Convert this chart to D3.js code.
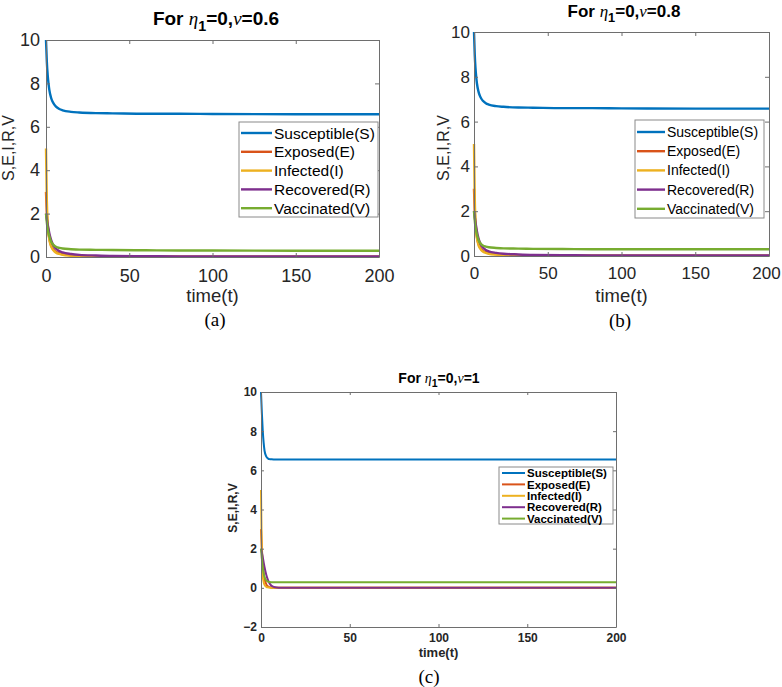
<!DOCTYPE html>
<html><head><meta charset="utf-8">
<script src="https://cdn.jsdelivr.net/npm/d3@7"></script>
<style>body{margin:0;background:#fff}svg{display:block}</style>
</head><body>
<svg id="c" width="782" height="687"></svg>
<script>
// ---- data ----
const seriesNames = ["Susceptible(S)","Exposed(E)","Infected(I)","Recovered(R)","Vaccinated(V)"];
const seriesColors = ["#0072BD","#D95319","#EDB120","#7E2F8E","#77AC30"];
const timeTicks = [0,50,100,150,200];

const timeAB = [0,0.5,1,1.5,2,3,4,5,6,8,10,15,20,30,40,60,80,100,150,200];
const S_a = [10,9.0,8.4,8.0,7.7,7.35,7.15,7.02,6.93,6.82,6.76,6.69,6.66,6.63,6.62,6.6,6.6,6.59,6.58,6.58];
const E_a = [3,2.0,1.45,1.1,0.85,0.55,0.4,0.3,0.24,0.17,0.13,0.08,0.06,0.04,0.03,0.02,0.015,0.01,0.01,0.01];
const I_a = [5,2.6,1.6,1.1,0.8,0.5,0.35,0.26,0.2,0.14,0.1,0.06,0.04,0.03,0.02,0.015,0.01,0.01,0.01,0.01];
const R_a = [2,1.75,1.5,1.3,1.1,0.8,0.6,0.47,0.38,0.27,0.21,0.14,0.1,0.07,0.05,0.04,0.03,0.03,0.02,0.02];
const V_a = [2,1.6,1.3,1.1,0.95,0.72,0.6,0.52,0.47,0.42,0.39,0.36,0.34,0.33,0.32,0.31,0.3,0.3,0.29,0.29];

const S_b = [10,9.0,8.4,8.0,7.7,7.35,7.15,7.02,6.93,6.82,6.76,6.69,6.66,6.63,6.62,6.6,6.6,6.59,6.58,6.58];
const E_b = [3,2.0,1.45,1.1,0.85,0.55,0.4,0.3,0.24,0.17,0.13,0.08,0.06,0.04,0.03,0.02,0.015,0.01,0.01,0.01];
const I_b = [5,2.6,1.6,1.1,0.8,0.5,0.35,0.26,0.2,0.14,0.1,0.06,0.04,0.03,0.02,0.015,0.01,0.01,0.01,0.01];
const R_b = [2,1.75,1.5,1.3,1.1,0.8,0.6,0.47,0.38,0.27,0.21,0.14,0.1,0.07,0.05,0.04,0.03,0.03,0.02,0.02];
const V_b = [2,1.6,1.3,1.1,0.95,0.72,0.6,0.52,0.47,0.42,0.39,0.36,0.34,0.33,0.32,0.31,0.3,0.3,0.3,0.3];

const timeC = [0,0.5,1,1.5,2,3,4,5,6,8,10,15,20,50,100,150,200];
const S_c = [10,8.9,8.0,7.4,7.0,6.7,6.6,6.57,6.56,6.55,6.55,6.55,6.55,6.55,6.55,6.55,6.55];
const E_c = [3,2.0,1.2,0.75,0.45,0.18,0.07,0.03,0.01,0,0,0,0,0,0,0,0];
const I_c = [5,1.5,0.6,0.3,0.15,0.05,0.02,0.01,0,0,0,0,0,0,0,0,0];
const R_c = [2,1.8,1.55,1.3,1.05,0.65,0.38,0.2,0.1,0.03,0.01,0,0,0,0,0,0];
const V_c = [2,1.5,1.05,0.75,0.55,0.38,0.32,0.3,0.29,0.29,0.29,0.29,0.29,0.29,0.29,0.29,0.29];

const yTicksAB = [0,2,4,6,8,10];
const yTicksC = [-2,0,2,4,6,8,10];

// ---- drawing ----
const svg = d3.select("#c");

function drawPanel(cfg){
  const g = svg.append("g");
  const x = d3.scaleLinear().domain([0,200]).range([cfg.x0,cfg.x1]);
  const y = d3.scaleLinear().domain(cfg.ydom).range([cfg.y1,cfg.y0]);
  const axCol = "#6e6e6e", txtCol = "#262626";
  const tl = cfg.tick;
  const wt = cfg.bold ? "bold" : "normal";
  // series
  const line = d3.line().x((d,i)=>x(cfg.t[i])).y(d=>y(d)).curve(d3.curveMonotoneX);
  cfg.series.forEach((s,k)=>{
    g.append("path").datum(s).attr("d",line).attr("fill","none")
     .attr("stroke",seriesColors[k]).attr("stroke-width",cfg.lw).attr("stroke-linejoin","round");
  });
  // axes
  const font = cfg.font;
  const bottom = g.append("g").attr("transform",`translate(0,${cfg.y1})`)
    .call(d3.axisBottom(x).tickValues(timeTicks).tickSizeInner(-tl).tickSizeOuter(0).tickPadding(cfg.xpad));
  const top = g.append("g").attr("transform",`translate(0,${cfg.y0})`)
    .call(d3.axisTop(x).tickValues(timeTicks).tickSizeInner(-tl).tickSizeOuter(0).tickFormat(""));
  const left = g.append("g").attr("transform",`translate(${cfg.x0},0)`)
    .call(d3.axisLeft(y).tickValues(cfg.yticks).tickSizeInner(-tl).tickSizeOuter(0).tickPadding(cfg.ypad));
  const right = g.append("g").attr("transform",`translate(${cfg.x1},0)`)
    .call(d3.axisRight(y).tickValues(cfg.yticks).tickSizeInner(-tl).tickSizeOuter(0).tickFormat(""));
  [bottom,top,left,right].forEach(a=>{
    a.select(".domain").attr("stroke",axCol).attr("stroke-width",1);
    a.selectAll(".tick line").attr("stroke",axCol);
    a.selectAll("text").attr("fill",txtCol).attr("font-family",font)
      .attr("font-size",cfg.tickSize).attr("font-weight",wt);
  });
  if (cfg.lastShift) {
    bottom.selectAll(".tick text").filter(d=>d===200).attr("dx",-cfg.lastShift);
  }
  // title
  const ts = cfg.titleSize;
  const tt = g.append("text").attr("x",cfg.titleX).attr("y",cfg.titleY).attr("text-anchor","middle")
    .attr("font-family",font).attr("font-weight","bold").attr("font-size",ts).attr("fill","#000");
  tt.append("tspan").text("For ");
  tt.append("tspan").text("η").attr("font-family","Liberation Serif").attr("font-style","italic").attr("font-weight","normal");
  tt.append("tspan").text("1").attr("font-size",ts*0.75).attr("dy",ts*0.3);
  tt.append("tspan").text("=0,").attr("dy",-ts*0.3);
  tt.append("tspan").text("ν").attr("font-family","Liberation Serif").attr("font-style","italic").attr("font-weight","normal");
  tt.append("tspan").text("=" + cfg.nu);
  // axis labels
  g.append("text").attr("x",(cfg.x0+cfg.x1)/2).attr("y",cfg.xlabY).attr("text-anchor","middle")
    .attr("font-family",font).attr("font-size",cfg.labSize).attr("font-weight",wt)
    .attr("fill",txtCol).text("time(t)");
  g.append("text").attr("transform",`translate(${cfg.ylabX},${cfg.ylabY}) rotate(-90)`).attr("text-anchor","middle")
    .attr("font-family",font).attr("font-size",cfg.ylabSize).attr("font-weight",wt)
    .attr("fill",txtCol).text("S,E,I,R,V");
  // caption
  g.append("text").attr("x",cfg.capX).attr("y",cfg.capY).attr("text-anchor","middle")
    .attr("font-family","Liberation Serif").attr("font-size",cfg.capSize).attr("fill","#000").text(cfg.cap);
  // legend
  const L = cfg.leg;
  g.append("rect").attr("x",L.x).attr("y",L.y).attr("width",L.w).attr("height",L.h)
    .attr("fill","#fff").attr("stroke","#8a8a8a").attr("stroke-width",1);
  seriesNames.forEach((n,k)=>{
    const yy = L.y + L.first + k*L.step;
    g.append("line").attr("x1",L.x+L.l0).attr("x2",L.x+L.l1).attr("y1",yy).attr("y2",yy)
      .attr("stroke",seriesColors[k]).attr("stroke-width",cfg.lw);
    g.append("text").attr("x",L.x+L.l1+2).attr("y",yy).attr("dy","0.36em")
      .attr("font-family",font).attr("font-size",L.fs).attr("font-weight",wt)
      .attr("fill","#000").text(n);
  });
}

const F = "Liberation Sans, Arial, sans-serif";
drawPanel({x0:46,x1:379,y0:40,y1:257,ydom:[0,10],yticks:yTicksAB,t:timeAB,
  series:[S_a,E_a,I_a,R_a,V_a],lw:2.4,tick:4,xpad:12,ypad:6,font:F,tickSize:18,bold:false,
  titleX:216,titleY:25,titleSize:19,nu:"0.6",labSize:18.5,xlabY:302,ylabX:14,ylabY:148,ylabSize:16,
  capX:215,capY:326,capSize:19,cap:"(a)",
  leg:{x:239,y:122,w:139,h:95,first:11,step:18.8,l0:2,l1:33,fs:15.5}});
drawPanel({x0:474,x1:769,y0:32,y1:256,ydom:[0,10],yticks:yTicksAB,t:timeAB,
  series:[S_b,E_b,I_b,R_b,V_b],lw:2.4,tick:4,xpad:11,ypad:4,font:F,tickSize:17,bold:false,lastShift:3,
  titleX:624,titleY:17,titleSize:17,nu:"0.8",labSize:18.5,xlabY:302,ylabX:449,ylabY:148,ylabSize:16,
  capX:620,capY:327,capSize:19,cap:"(b)",
  leg:{x:635,y:120,w:129,h:98,first:12,step:19.2,l0:2,l1:30,fs:14}});
drawPanel({x0:261,x1:616,y0:392,y1:627,ydom:[-2,10],yticks:yTicksC,t:timeC,
  series:[S_c,E_c,I_c,R_c,V_c],lw:2,tick:3,xpad:6,ypad:4,font:F,tickSize:12,bold:true,
  titleX:439,titleY:383,titleSize:14,nu:"1",labSize:13,xlabY:657,ylabX:237,ylabY:508,ylabSize:12,
  capX:429,capY:683,capSize:19,cap:"(c)",
  leg:{x:499,y:467,w:114,h:57,first:6,step:11.4,l0:3,l1:26,fs:11.5}});
</script>
</body></html>
